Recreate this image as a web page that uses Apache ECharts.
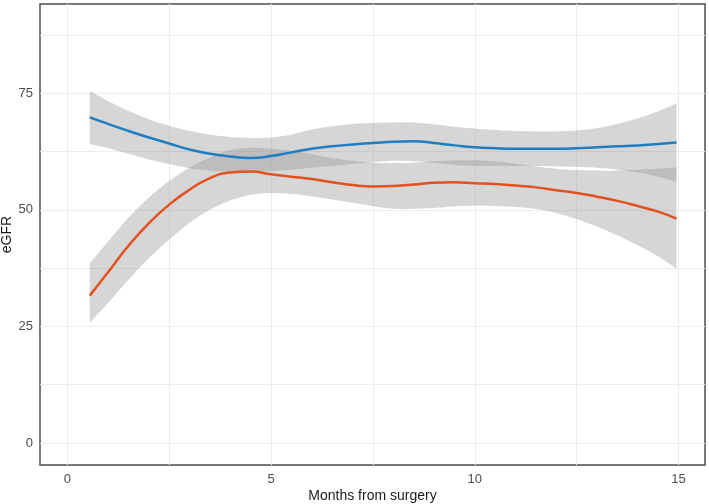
<!DOCTYPE html>
<html>
<head>
<meta charset="utf-8">
<script src="https://cdn.jsdelivr.net/npm/echarts@6/dist/echarts.min.js"></script>
<style>
  html, body { margin: 0; padding: 0; background: #fff; }
  #chart { width: 709px; height: 504px; }
</style>
</head>
<body>
<div id="chart"></div>
<script>
  // months from surgery where the smooth curves were read
  const months = [0.55, 1, 1.5, 2, 2.5, 3, 3.5, 4, 4.5, 5, 5.5, 6, 6.5, 7, 7.5, 8, 8.5, 9, 9.5, 10,
    10.5, 11, 11.5, 12, 12.5, 13, 13.5, 14, 14.5, 14.95]

  // blue group: fit and confidence band
  const blueFit = [69.8, 68.4, 66.9, 65.5, 64.2, 62.9, 62.0, 61.4, 61.1, 61.5, 62.3, 63.1, 63.6, 64.0, 64.3,
    64.6, 64.7, 64.3, 63.8, 63.4, 63.2, 63.1, 63.1, 63.1, 63.2, 63.4, 63.6, 63.8, 64.1, 64.4]
  const blueUpper = [75.5, 73.3, 71.2, 69.4, 68.0, 66.9, 66.1, 65.6, 65.4, 65.5, 66.1, 67.2, 67.9, 68.4, 68.6,
    68.7, 68.7, 68.3, 67.8, 67.4, 67.1, 66.9, 66.8, 66.8, 67.0, 67.5, 68.4, 69.6, 71.1, 72.8]
  const blueLower = [64.1, 63.2, 62.0, 60.8, 59.8, 58.9, 58.4, 58.2, 58.1, 58.3, 58.6, 59.0, 59.4, 59.8, 60.2,
    60.5, 60.4, 60.0, 59.6, 59.4, 59.4, 59.4, 59.4, 59.3, 59.2, 59.0, 58.6, 58.0, 57.1, 56.0]

  // orange group: fit and confidence band
  const orangeFit = [31.6, 36.6, 42.3, 47.1, 51.1, 54.3, 56.8, 58.0, 58.2, 57.6, 57.1, 56.6, 55.9, 55.3, 55.0,
    55.1, 55.4, 55.8, 55.9, 55.7, 55.5, 55.2, 54.8, 54.2, 53.6, 52.8, 51.9, 50.8, 49.6, 48.1]
  const orangeUpper = [38.5, 43.2, 48.3, 52.6, 56.2, 59.0, 61.2, 62.8, 63.3, 63.1, 62.6, 61.9, 61.1, 60.5, 60.1,
    60.0, 60.1, 60.4, 60.6, 60.6, 60.4, 59.9, 59.3, 58.8, 58.5, 58.4, 58.4, 58.6, 58.8, 59.1]
  const orangeLower = [25.8, 30.0, 35.0, 39.6, 43.6, 47.2, 50.0, 52.0, 53.2, 53.6, 53.4, 52.9, 52.2, 51.5, 50.8,
    50.2, 50.2, 50.4, 50.7, 50.9, 50.8, 50.6, 50.2, 49.3, 48.0, 46.4, 44.5, 42.4, 40.0, 37.4]

  const xTicks = [0, 5, 10, 15]
  const yTicks = [0, 25, 50, 75]
  const xGrid = [0, 2.5, 5, 7.5, 10, 12.5, 15]
  const yGrid = [0, 12.5, 25, 37.5, 50, 62.5, 75, 87.5]

  const pairs = (ys) => months.map((m, i) => [m, ys[i]])
  const bandFill = 'rgba(153,153,153,0.4)'
  const font = 'Liberation Sans'

  // catmull-rom through pixel points so the band edges curve like the lines
  function spline(pts, k) {
    const out = []
    for (let i = 0; i < pts.length - 1; i++) {
      const p0 = pts[Math.max(i - 1, 0)], p1 = pts[i], p2 = pts[i + 1], p3 = pts[Math.min(i + 2, pts.length - 1)]
      for (let s = 0; s < k; s++) {
        const t = s / k, t2 = t * t, t3 = t2 * t
        out.push([0, 1].map(d => 0.5 * (2 * p1[d] + (p2[d] - p0[d]) * t +
          (2 * p0[d] - 5 * p1[d] + 4 * p2[d] - p3[d]) * t2 + (3 * p1[d] - p0[d] - 3 * p2[d] + p3[d]) * t3)))
      }
    }
    out.push(pts[pts.length - 1])
    return out
  }

  function band(upper, lower) {
    return {
      type: 'custom',
      z: 2,
      silent: true,
      data: [[months[0], upper[0]]],
      renderItem(params, api) {
        const top = spline(months.map((m, i) => api.coord([m, upper[i]])), 8)
        const bottom = spline(months.map((m, i) => api.coord([m, lower[i]])), 8).reverse()
        return { type: 'polygon', shape: { points: top.concat(bottom) }, style: { fill: bandFill } }
      }
    }
  }

  let chart = echarts.init(document.getElementById('chart'))
  chart.setOption({
    animation: false,
    backgroundColor: '#fff',
    grid: {
      left: 40, right: 4, top: 4, bottom: 39,
      outerBoundsMode: 'none',
      show: true, borderColor: '#4d4d4d', borderWidth: 1.5, backgroundColor: 'transparent'
    },
    xAxis: {
      type: 'value',
      min: -0.67,
      max: 15.65,
      name: 'Months from surgery',
      nameLocation: 'middle',
      nameGap: 24,
      nameMoveOverlap: false,
      nameTextStyle: { fontFamily: font, fontSize: 14, color: '#1a1a1a' },
      axisLine: { show: false },
      axisTick: { show: false, customValues: xTicks },
      splitLine: { show: false },
      axisLabel: { customValues: xTicks, margin: 8, fontFamily: font, fontSize: 13, color: '#4d4d4d' }
    },
    yAxis: {
      type: 'value',
      min: -4.7,
      max: 94.1,
      name: 'eGFR',
      nameLocation: 'middle',
      nameGap: 26,
      nameMoveOverlap: false,
      nameTextStyle: { fontFamily: font, fontSize: 14, color: '#1a1a1a' },
      axisLine: { show: false },
      axisTick: { show: false, customValues: yTicks },
      splitLine: { show: false },
      axisLabel: { customValues: yTicks, margin: 7, fontFamily: font, fontSize: 13, color: '#4d4d4d' }
    },
    series: [
      band(blueUpper, blueLower),
      band(orangeUpper, orangeLower),
      {
        name: 'blue', type: 'line', smooth: true, symbol: 'none', z: 5,
        lineStyle: { color: '#1f7ec2', width: 2.5 }, data: pairs(blueFit),
        markLine: {
          silent: true, symbol: 'none', z: 1, label: { show: false },
          lineStyle: { color: '#ececec', width: 1, type: 'solid' },
          data: xGrid.map(v => ({ xAxis: v })).concat(yGrid.map(v => ({ yAxis: v })))
        }
      },
      {
        name: 'orange', type: 'line', smooth: true, symbol: 'none', z: 5,
        lineStyle: { color: '#e2511f', width: 2.5 }, data: pairs(orangeFit)
      }
    ]
  })
</script>
</body>
</html>
